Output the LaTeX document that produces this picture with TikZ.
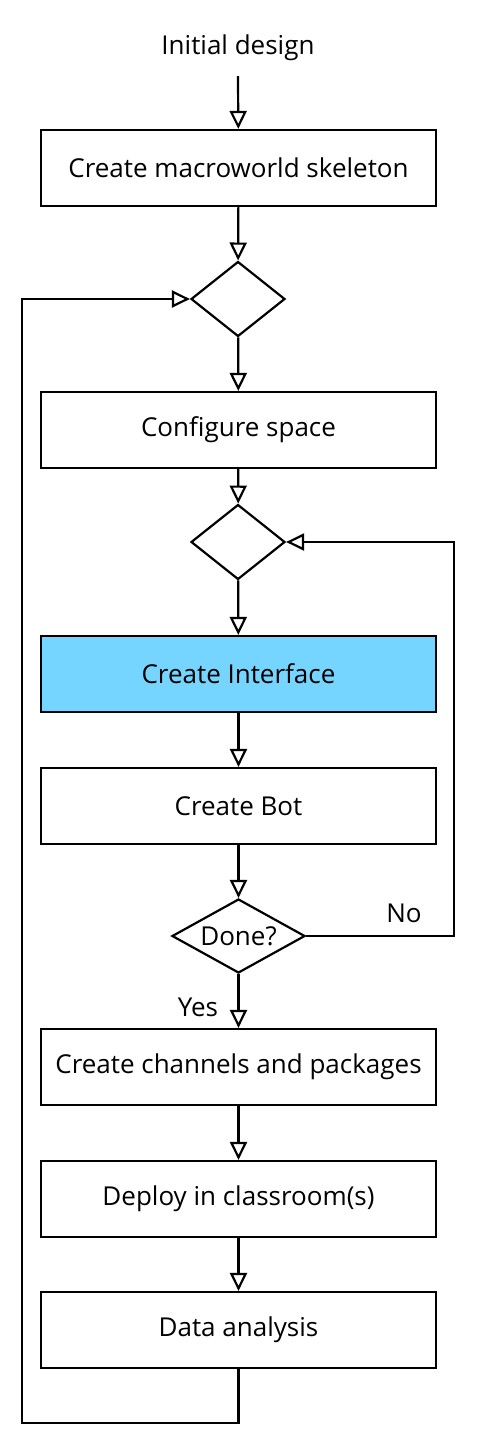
\documentclass[tikz,border=0pt]{standalone}
\usepackage{fontspec}
\setmainfont{Open Sans}
\usepackage{tikz}
\definecolor{interface}{RGB}{118,213,254}
\usetikzlibrary{positioning,arrows.meta,shapes.geometric}
\tikzset{%
  label/.style={font=\fontsize{26}{30}\selectfont, inner sep=1pt},% free text
  process/.style={draw, rectangle, line width=2.2pt, minimum width=395pt,
    minimum height=76pt, font=\fontsize{26}{30}\selectfont},% process box
  decision/.style={draw, diamond, line width=2.2pt, inner sep=0pt, aspect=2.2,
    font=\fontsize{26}{30}\selectfont},% decision diamond
  flow/.style={line width=2.2pt, -{Triangle[open, length=18pt, width=17pt]}}% connector
}

\begin{document}
\begin{tikzpicture}[x=1pt, y=-1pt]
\useasboundingbox (0,0) rectangle (477,1447);
\node[label] (init) at (238, 48) {Initial design};
\node[process] (skeleton) at (238.5, 168) {Create macroworld skeleton};
\node[decision, minimum width=94pt, minimum height=75pt] (choose1) at (238, 299) {};
\node[process] (space) at (238.5, 430) {Configure space};
\node[decision, minimum width=94pt, minimum height=75pt] (choose2) at (238, 542) {};
\node[process, fill=interface] (iface) at (238.5, 674) {Create Interface};
\node[process] (bot) at (238.5, 806) {Create Bot};
\node[decision, minimum width=133pt, minimum height=74pt] (done) at (238.5, 936) {Done?};
\node[process] (channels) at (238.5, 1067) {Create channels and packages};
\node[process] (deploy) at (238.5, 1199) {Deploy in classroom(s)};
\node[process] (analysis) at (238.5, 1330) {Data analysis};
\node[label] (no) at (404, 913) {No};
\node[label] (yes) at (198, 1007) {Yes};
\coordinate (noturn) at (454, 936);
\coordinate (loopturn) at (22, 1423);

\draw[flow] ([yshift=-14pt]init.south) -- (skeleton);
\draw[flow] (skeleton) -- (choose1);
\draw[flow] (choose1) -- (space);
\draw[flow] (space) -- (choose2);
\draw[flow] (choose2) -- (iface);
\draw[flow] (iface) -- (bot);
\draw[flow] (bot) -- (done);
\draw[flow] (done) -- (channels);
\draw[flow] (channels) -- (deploy);
\draw[flow] (deploy) -- (analysis);
\draw[flow] (done.east) -- (noturn) |- (choose2.east);
\draw[flow] (analysis.south) |- (loopturn) |- (choose1.west);
\end{tikzpicture}
\end{document}
